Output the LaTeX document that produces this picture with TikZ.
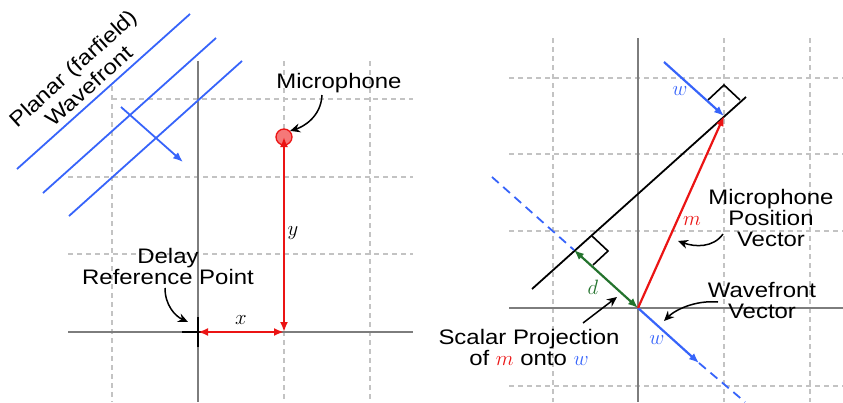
\documentclass[tikz,border=0pt]{standalone}
\usepackage[no-math]{fontspec}
\setmainfont[FakeStretch=1.14]{Liberation Sans}
\usetikzlibrary{arrows.meta}
\definecolor{wblue}{RGB}{55,100,250}
\definecolor{mred}{RGB}{235,20,20}
\definecolor{micfill}{RGB}{245,120,120}
\definecolor{dgreen}{RGB}{35,115,45}
\definecolor{axgray}{RGB}{125,125,125}
\definecolor{gridgray}{RGB}{195,195,195}
\tikzset{
  gridline/.style={gridgray, line width=1.4pt, dash pattern=on 5pt off 4pt},
  axisline/.style={axgray, line width=1.7pt},
  lbl/.style={align=center, inner sep=0pt},
  callout/.style={black, line width=1.5pt, -{Stealth[length=10pt,width=9pt]}},
  vec/.style={line width=2.2pt},
  vtip/.style={-{Latex[length=10pt,width=8pt]}},
  vboth/.style={{Latex[length=10pt,width=8pt]}-{Latex[length=10pt,width=8pt]}},
  wfline/.style={wblue, line width=1.8pt},
  bluedash/.style={wblue, line width=1.8pt, dash pattern=on 9pt off 6pt},
  micdot/.style={circle, minimum size=16pt, inner sep=0pt, fill=micfill, draw=mred, line width=1.3pt},
}
\begin{document}
\begin{tikzpicture}[x=1pt, y=-1pt, font=\fontsize{21}{21}\selectfont]
\useasboundingbox (0,0) rectangle (843,402);
% ---------------- left diagram ----------------
\draw[gridline] (112,86) -- (112,402);
\draw[gridline] (284,61) -- (284,402);
\draw[gridline] (370,61) -- (370,402);
\draw[gridline] (112,99) -- (413,99);
\draw[gridline] (68,177) -- (413,177);
\draw[gridline] (68,254) -- (413,254);
\draw[axisline] (68,332) -- (413,332);
\draw[axisline] (198,61) -- (198,402);

\coordinate (O1) at (198,332);
\coordinate (X1) at (284,332);
\coordinate (crossL) at (182,332);
\coordinate (crossR) at (214,332);
\coordinate (crossT) at (198,317);
\coordinate (crossB) at (198,347);
\draw[black, line width=2pt] (crossL) -- (crossR);
\draw[black, line width=2pt] (crossT) -- (crossB);

\node[micdot] (mic) at (284,137) {};
\draw[vec, mred, vboth] (mic.center) -- (X1);
\draw[vec, mred, vboth] (O1) -- (X1);
\node[inner sep=0pt] (ylab) at (293,233) {$y$};
\node[inner sep=0pt] (xlab) at (241,320) {$x$};

\coordinate (wa1) at (17,169);  \coordinate (wb1) at (190,14);
\coordinate (wa2) at (43,193);  \coordinate (wb2) at (216,38);
\coordinate (wa3) at (69,216);  \coordinate (wb3) at (242,61);
\draw[wfline] (wa1) -- (wb1);
\draw[wfline] (wa2) -- (wb2);
\draw[wfline] (wa3) -- (wb3);
\coordinate (dirA) at (121,107);
\coordinate (dirB) at (183,162);
\draw[wfline, vtip] (dirA) -- (dirB);
\node[lbl, rotate=42, font=\fontsize{21}{24}\selectfont] (wflab) at (81,77) {Planar (farfield)\\Wavefront};

\node[lbl] (delay) at (168,266) {Delay\\Reference Point};
\coordinate (refpt) at (188,322);
\coordinate (delayfoot) at (165,288);
\draw[callout] (delayfoot) .. controls +(0,17) and +(-13,-6) .. (refpt);

\node[lbl] (miclab) at (339,83) {Microphone};
\coordinate (micfoot) at (322,95);
\draw[callout] (micfoot) .. controls +(-1,22) and +(13,-4) .. (mic.north east);

% ---------------- right diagram ----------------
\draw[gridline] (553,38) -- (553,402);
\draw[gridline] (724,38) -- (724,402);
\draw[gridline] (810,38) -- (810,402);
\draw[gridline] (509,78) -- (843,78);
\draw[gridline] (509,154) -- (843,154);
\draw[gridline] (509,231) -- (843,231);
\draw[gridline] (509,386) -- (843,386);
\draw[axisline] (509,308) -- (843,308);
\draw[axisline] (638,38) -- (638,402);

\coordinate (O2) at (638,308);
\coordinate (M2) at (724,116);
\coordinate (P) at (574,250);
\coordinate (L1) at (532,289);
\coordinate (L2) at (746,97);
\coordinate (Wtop) at (664,62);
\coordinate (Wtip) at (699,363);
\coordinate (Wd1) at (492,177);
\coordinate (Wd2) at (745,402);

\draw[black, line width=1.8pt] (L1) -- (L2);
\coordinate (ta) at (708,100); \coordinate (tb) at (724,85); \coordinate (tc) at (740,100);
\draw[black, line width=1.6pt] (ta) -- (tb) -- (tc);
\coordinate (ba) at (592,236); \coordinate (bb) at (608,251); \coordinate (bc) at (593,265);
\draw[black, line width=1.6pt] (ba) -- (bb) -- (bc);

\draw[bluedash] (Wd1) -- (P);
\draw[bluedash] (Wtip) -- (Wd2);
\draw[vec, wblue, vtip] (O2) -- (Wtip);
\draw[vec, wblue, vtip] (Wtop) -- (M2);
\draw[vec, mred, vtip] (O2) -- (M2);
\draw[vec, dgreen, vboth] (O2) -- (P);

\node[inner sep=0pt, text=wblue] (wtoplab) at (680,91) {$w$};
\node[inner sep=0pt, text=mred] (mlab) at (692,221) {$m$};
\node[inner sep=0pt, text=dgreen] (dlab) at (593,287) {$d$};
\node[inner sep=0pt, text=wblue] (wbotlab) at (657,340) {$w$};

\node[lbl] (mpv) at (771,218) {Microphone\\Position\\Vector};
\coordinate (mpvfoot) at (723,234);
\coordinate (mpvtip) at (678,241);
\draw[callout] (mpvfoot) .. controls +(-10,14) and +(17,6) .. (mpvtip);

\node[lbl] (wfv) at (762,300) {Wavefront\\Vector};
\coordinate (wfvfoot) at (718,302);
\coordinate (wfvtip) at (664,321);
\draw[callout] (wfvfoot) .. controls +(-23,-2) and +(11,-11) .. (wfvtip);

\node[lbl] (spr) at (529,347) {Scalar Projection\\of \textcolor{mred}{$m$} onto \textcolor{wblue}{$w$}};
\coordinate (sprfoot) at (583,323);
\coordinate (sprtip) at (617,297);
\draw[callout] (sprfoot) -- (sprtip);
\end{tikzpicture}
\end{document}
